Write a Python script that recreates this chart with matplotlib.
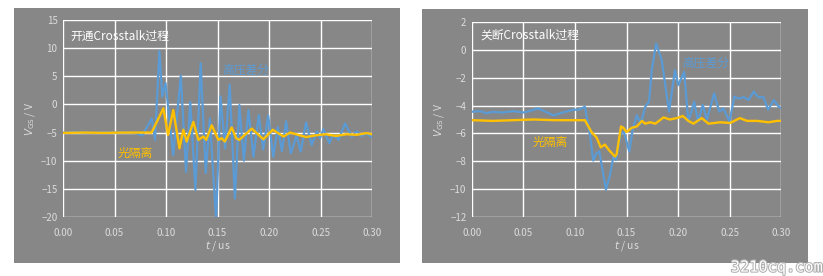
import matplotlib
matplotlib.use("Agg")
import matplotlib.pyplot as plt
import matplotlib.patheffects as pe
from matplotlib.patches import Rectangle

plt.rcParams['font.family'] = ['Noto Sans CJK SC', 'DejaVu Sans']
plt.rcParams['mathtext.fontset'] = 'dejavusans'

# ===================== 开通 Crosstalk =====================
t_on_hv = [0.000, 0.010, 0.020, 0.030, 0.040, 0.050, 0.060, 0.070, 0.077, 0.086,
           0.0893, 0.0935, 0.0964, 0.0995, 0.107, 0.1143, 0.1194, 0.1235, 0.1285, 0.1336,
           0.1385, 0.1425, 0.1486, 0.1528, 0.1573, 0.1618, 0.1668, 0.1712, 0.1755, 0.1800,
           0.1848, 0.1900, 0.1943, 0.1992, 0.2040, 0.2085, 0.2125, 0.2165, 0.2211, 0.2268,
           0.2307, 0.2359, 0.2414, 0.2463, 0.2495, 0.2527, 0.2586, 0.2618, 0.2673, 0.2738,
           0.2803, 0.2850, 0.2900, 0.2940, 0.3000]
v_on_hv = [-5.0, -4.9, -5.0, -5.05, -4.95, -5.0, -5.0, -5.05, -5.5, -2.5,
           -6.3, 9.5, 1.4, 3.8, -9.0, 5.1, -12.0, 0.5, -15.2, 7.3,
           -12.2, -2.5, -20.5, 1.4, -7.8, 3.5, -16.7, -0.1, -10.0, -1.0,
           -9.3, -1.9, -8.0, -2.0, -9.3, -4.0, -8.3, -3.0, -8.7, -5.5,
           -8.4, -3.2, -7.2, -4.8, -6.0, -4.4, -6.9, -5.4, -6.3, -3.4,
           -5.7, -4.8, -5.6, -5.2, -5.8]

t_on_opt = [0.000, 0.020, 0.040, 0.060, 0.075, 0.086, 0.091, 0.0974, 0.1019, 0.107,
            0.113, 0.1168, 0.120, 0.1265, 0.1314, 0.1362, 0.139, 0.1443, 0.1508, 0.154,
            0.157, 0.1637, 0.168, 0.171, 0.1832, 0.1945, 0.2036, 0.214, 0.2204, 0.228,
            0.236, 0.245, 0.255, 0.265, 0.275, 0.285, 0.295, 0.300]
v_on_opt = [-5.05, -5.0, -5.05, -5.0, -5.0, -5.0, -3.1, -0.7, -5.4, -1.0,
            -7.8, -4.5, -6.6, -3.1, -6.3, -5.7, -6.3, -3.7, -6.3, -6.0,
            -6.6, -4.1, -6.0, -6.3, -4.3, -6.2, -4.5, -5.7, -5.0, -5.4,
            -5.8, -5.5, -5.3, -5.6, -5.3, -5.4, -5.1, -5.3]

# ===================== 关断 Crosstalk =====================
t_off_hv = [0.000, 0.008, 0.014, 0.020, 0.030, 0.040, 0.050, 0.058, 0.064, 0.070,
            0.079, 0.088, 0.098, 0.104, 0.1096, 0.1145, 0.1177, 0.121, 0.1236, 0.130,
            0.134, 0.1372, 0.1398, 0.1443, 0.1475, 0.1527, 0.156, 0.160, 0.164, 0.168,
            0.1719, 0.1745, 0.1787, 0.1842, 0.1913, 0.197, 0.2004, 0.206, 0.210, 0.2157,
            0.2195, 0.224, 0.228, 0.2351, 0.240, 0.244, 0.250, 0.2546, 0.259, 0.2637,
            0.2686, 0.2734, 0.278, 0.283, 0.2874, 0.293, 0.2978, 0.300]
v_off_hv = [-4.44, -4.4, -4.55, -4.45, -4.5, -4.4, -4.5, -4.35, -4.2, -4.4,
            -4.7, -4.5, -4.3, -4.3, -4.08, -6.1, -7.95, -7.4, -7.3, -10.04,
            -8.97, -7.7, -7.9, -6.0, -5.9, -7.3, -5.7, -4.7, -5.3, -4.1,
            -3.72, -1.46, 0.45, -0.74, -4.44, -1.46, -2.53, -1.58, -5.15, -3.72,
            -5.15, -3.95, -5.0, -3.12, -4.44, -4.2, -5.15, -3.36, -3.5, -3.4,
            -3.6, -3.0, -3.4, -3.4, -4.3, -3.6, -4.1, -4.15]

t_off_opt = [0.000, 0.020, 0.040, 0.060, 0.080, 0.100, 0.1096, 0.116, 0.121, 0.125,
             0.129, 0.133, 0.1388, 0.1404, 0.1447, 0.147, 0.150, 0.155, 0.160, 0.165,
             0.168, 0.173, 0.178, 0.186, 0.192, 0.199, 0.2047, 0.210, 0.215, 0.223,
             0.2296, 0.241, 0.2507, 0.260, 0.267, 0.2767, 0.288, 0.296, 0.300]
v_off_opt = [-5.05, -5.1, -5.05, -5.0, -5.05, -5.05, -5.05, -5.9, -6.3, -7.0,
             -6.8, -7.2, -7.66, -7.5, -5.5, -5.6, -5.9, -5.6, -5.5, -5.1,
             -5.3, -5.2, -5.3, -4.85, -5.0, -4.9, -4.75, -5.1, -5.3, -4.9,
             -5.3, -5.2, -5.25, -4.9, -5.1, -5.1, -5.2, -5.1, -5.1]

x_ticks = [0.00, 0.05, 0.10, 0.15, 0.20, 0.25, 0.30]
on_yticks = [-20, -15, -10, -5, 0, 5, 10, 15]
off_yticks = [-12, -10, -8, -6, -4, -2, 0, 2]

BG = '#878787'
BLUE = '#5b9bd5'
YEL = '#ffc000'
TXT = '#dcdcdc'

fig = plt.figure(figsize=(8.23, 2.76), dpi=100)
fig.patch.set_facecolor('white')
fig.patches.append(Rectangle((0.017, 0.047), 0.469, 0.924, transform=fig.transFigure,
                             facecolor=BG, edgecolor='none', zorder=-5))
fig.patches.append(Rectangle((0.5128, 0.047), 0.469, 0.920, transform=fig.transFigure,
                             facecolor=BG, edgecolor='none', zorder=-5))

ax1 = fig.add_axes([0.0766, 0.2138, 0.3755, 0.7138])
ax2 = fig.add_axes([0.5735, 0.2138, 0.3755, 0.7065])


def style(ax, yticks):
    ax.set_facecolor(BG)
    ax.set_xlim(0, 0.3)
    ax.set_ylim(yticks[0], yticks[-1])
    ax.set_xticks(x_ticks)
    ax.set_xticklabels(['%.2f' % x for x in x_ticks])
    ax.set_yticks(yticks)
    ax.grid(True, color='white', linewidth=1.0)
    ax.set_axisbelow(True)
    for s in ax.spines.values():
        s.set_visible(False)
    ax.tick_params(length=0, labelsize=7, colors=TXT)
    ax.tick_params(axis='x', pad=8)
    ax.tick_params(axis='y', pad=4)
    ax.set_xlabel(r'$t$ / us', fontsize=7.5, color=TXT, labelpad=1)
    ax.set_ylabel(r'$V_{\mathrm{GS}}$ / V', fontsize=7.5, color=TXT, labelpad=3)


style(ax1, on_yticks)
ax1.plot(t_on_hv, v_on_hv, color=BLUE, lw=1.6, zorder=3)
ax1.plot(t_on_opt, v_on_opt, color=YEL, lw=1.7, zorder=4)
ax1.text(0.023, 0.915, '开通Crosstalk过程', transform=ax1.transAxes, color='white',
         fontsize=8.5, va='center', ha='left')
ax1.text(0.1544, 6.1, '高压差分', color=BLUE, fontsize=8.5, va='center', ha='left')
ax1.text(0.0534, -8.8, '光隔离', color=YEL, fontsize=8.5, va='center', ha='left')

style(ax2, off_yticks)
ax2.plot(t_off_hv, v_off_hv, color=BLUE, lw=1.6, zorder=3)
ax2.plot(t_off_opt, v_off_opt, color=YEL, lw=1.7, zorder=4)
ax2.text(0.026, 0.933, '关断Crosstalk过程', transform=ax2.transAxes, color='white',
         fontsize=8.5, va='center', ha='left')
ax2.text(0.204, -0.95, '高压差分', color=BLUE, fontsize=8.5, va='center', ha='left')
ax2.text(0.059, -6.68, '光隔离', color=YEL, fontsize=8.5, va='center', ha='left')

# 水印
fig.text(0.888, 0.005, '3210cq.com', color='white', fontsize=11, family='DejaVu Sans Mono',
         ha='left', va='bottom',
         path_effects=[pe.withStroke(linewidth=1.5, foreground='#b0b0b0')])

fig.savefig('out.png', dpi=100, facecolor='white')
